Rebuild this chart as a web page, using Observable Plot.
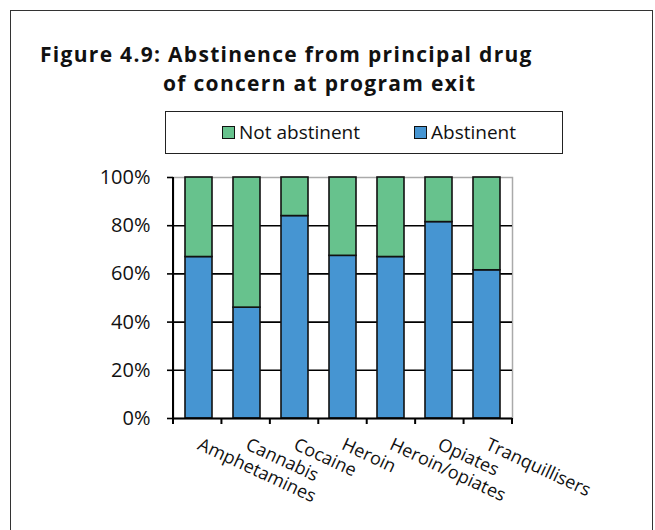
<!DOCTYPE html>
<html><head><meta charset="utf-8">
<script src="https://cdn.jsdelivr.net/npm/d3@7"></script>
<script src="https://cdn.jsdelivr.net/npm/@observablehq/plot@0.6"></script>
<style>
body{margin:0;background:#fff;font-family:"Open Sans",sans-serif;color:#111;}
#wrap{position:relative;width:655px;height:530px;overflow:hidden;}
#frame{position:absolute;left:10px;top:10px;width:643px;height:580px;border:1.5px solid #333;box-sizing:border-box;}
#title{position:absolute;left:40px;top:39.5px;font-weight:bold;font-size:21px;letter-spacing:1.3px;line-height:29px;white-space:nowrap;color:#111;}
#title .l2{padding-left:123px;}
#legend{position:absolute;left:165px;top:111px;width:398px;height:43px;border:1.5px solid #222;box-sizing:border-box;}
.item{position:absolute;top:9px;font-size:19px;line-height:22px;white-space:nowrap;color:#111;}
.sw{display:inline-block;width:11px;height:11px;border:1.5px solid #111;margin-right:4px;vertical-align:0px;}
#chart{position:absolute;left:0;top:160px;}
</style></head>
<body>
<div id="wrap">
  <div id="frame"></div>
  <div id="title"></div>
  <div id="legend"></div>
  <div id="chart"></div>
</div>
<script>
const titleLines = ["Figure 4.9: Abstinence from principal drug", "of concern at program exit"];
const categories = ["Amphetamines","Cannabis","Cocaine","Heroin","Heroin/opiates","Opiates","Tranquillisers"];
const abstinent = [67, 46, 84, 67.5, 67, 81.5, 61.5];
const notAbstinent = [33, 54, 16, 32.5, 33, 18.5, 38.5];
const seriesNames = ["Not abstinent", "Abstinent"];
const seriesColors = ["#67C28D", "#4695D2"];
const yTicks = [0, 20, 40, 60, 80, 100];
const yTickLabels = ["0%", "20%", "40%", "60%", "80%", "100%"];

const title = document.getElementById("title");
title.appendChild(document.createTextNode(titleLines[0]));
title.appendChild(document.createElement("br"));
const l2 = document.createElement("span");
l2.className = "l2";
l2.textContent = titleLines[1];
title.appendChild(l2);

// legend
const legend = document.getElementById("legend");
const legendLeft = [56, 248];
seriesNames.forEach((s, i) => {
  const it = document.createElement("div");
  it.className = "item";
  it.style.left = legendLeft[i] + "px";
  const sw = document.createElement("span");
  sw.className = "sw";
  sw.style.background = seriesColors[i];
  it.appendChild(sw);
  it.appendChild(document.createTextNode(s));
  legend.appendChild(it);
});

const data = [];
categories.forEach((c, i) => data.push({category: c, series: "Abstinent", value: abstinent[i]}));
categories.forEach((c, i) => data.push({category: c, series: "Not abstinent", value: notAbstinent[i]}));

const chart = Plot.plot({
  width: 655, height: 370,
  marginTop: 17, marginBottom: 112, marginLeft: 173, marginRight: 143,
  x: {domain: categories, paddingInner: 0.43, paddingOuter: 0.215, label: null, axis: null},
  y: {domain: [0, 100], label: null, axis: null},
  color: {domain: seriesNames, range: seriesColors},
  style: {fontFamily: "'Open Sans', sans-serif", fontSize: "19px", color: "#111", background: "transparent", overflow: "visible"},
  marks: [
    Plot.frame({stroke: "#aaa", strokeWidth: 1.5}),
    Plot.ruleY(yTicks.slice(1, -1), {stroke: "#000", strokeWidth: 1.6}),
    Plot.barY(data, Plot.stackY({x: "category", y: "value", fill: "series", stroke: "#111", strokeWidth: 1.6})),
    Plot.ruleY([0], {stroke: "#000", strokeWidth: 2}),
    Plot.axisY({ticks: yTicks, tickFormat: (d) => yTickLabels[yTicks.indexOf(d)], tickSize: 6, tickPadding: 17, fontSize: 20, stroke: "#000", strokeWidth: 1.6}),
    Plot.axisX({tickSize: 0, tickRotate: 25, tickPadding: 25, fontSize: 18})
  ]
});
document.getElementById("chart").appendChild(chart);

// axis line and category boundary ticks derived from the x/y scales
const sx = chart.scale("x"), sy = chart.scale("y");
const r0 = sx.range[0], r1 = sx.range[1];
const step = (r1 - r0) / sx.domain.length;
const y0 = Math.max(...sy.range), yTop = Math.min(...sy.range);
const svg = d3.select(chart);
const g = svg.append("g").attr("stroke", "#000").attr("stroke-width", 2);
g.append("line").attr("x1", r0).attr("x2", r0).attr("y1", yTop).attr("y2", y0 + 6);
for (let i = 0; i <= sx.domain.length; i++) {
  const x = r0 + i * step;
  g.append("line").attr("x1", x).attr("x2", x).attr("y1", y0).attr("y2", y0 + 6);
}
</script>
</body></html>
